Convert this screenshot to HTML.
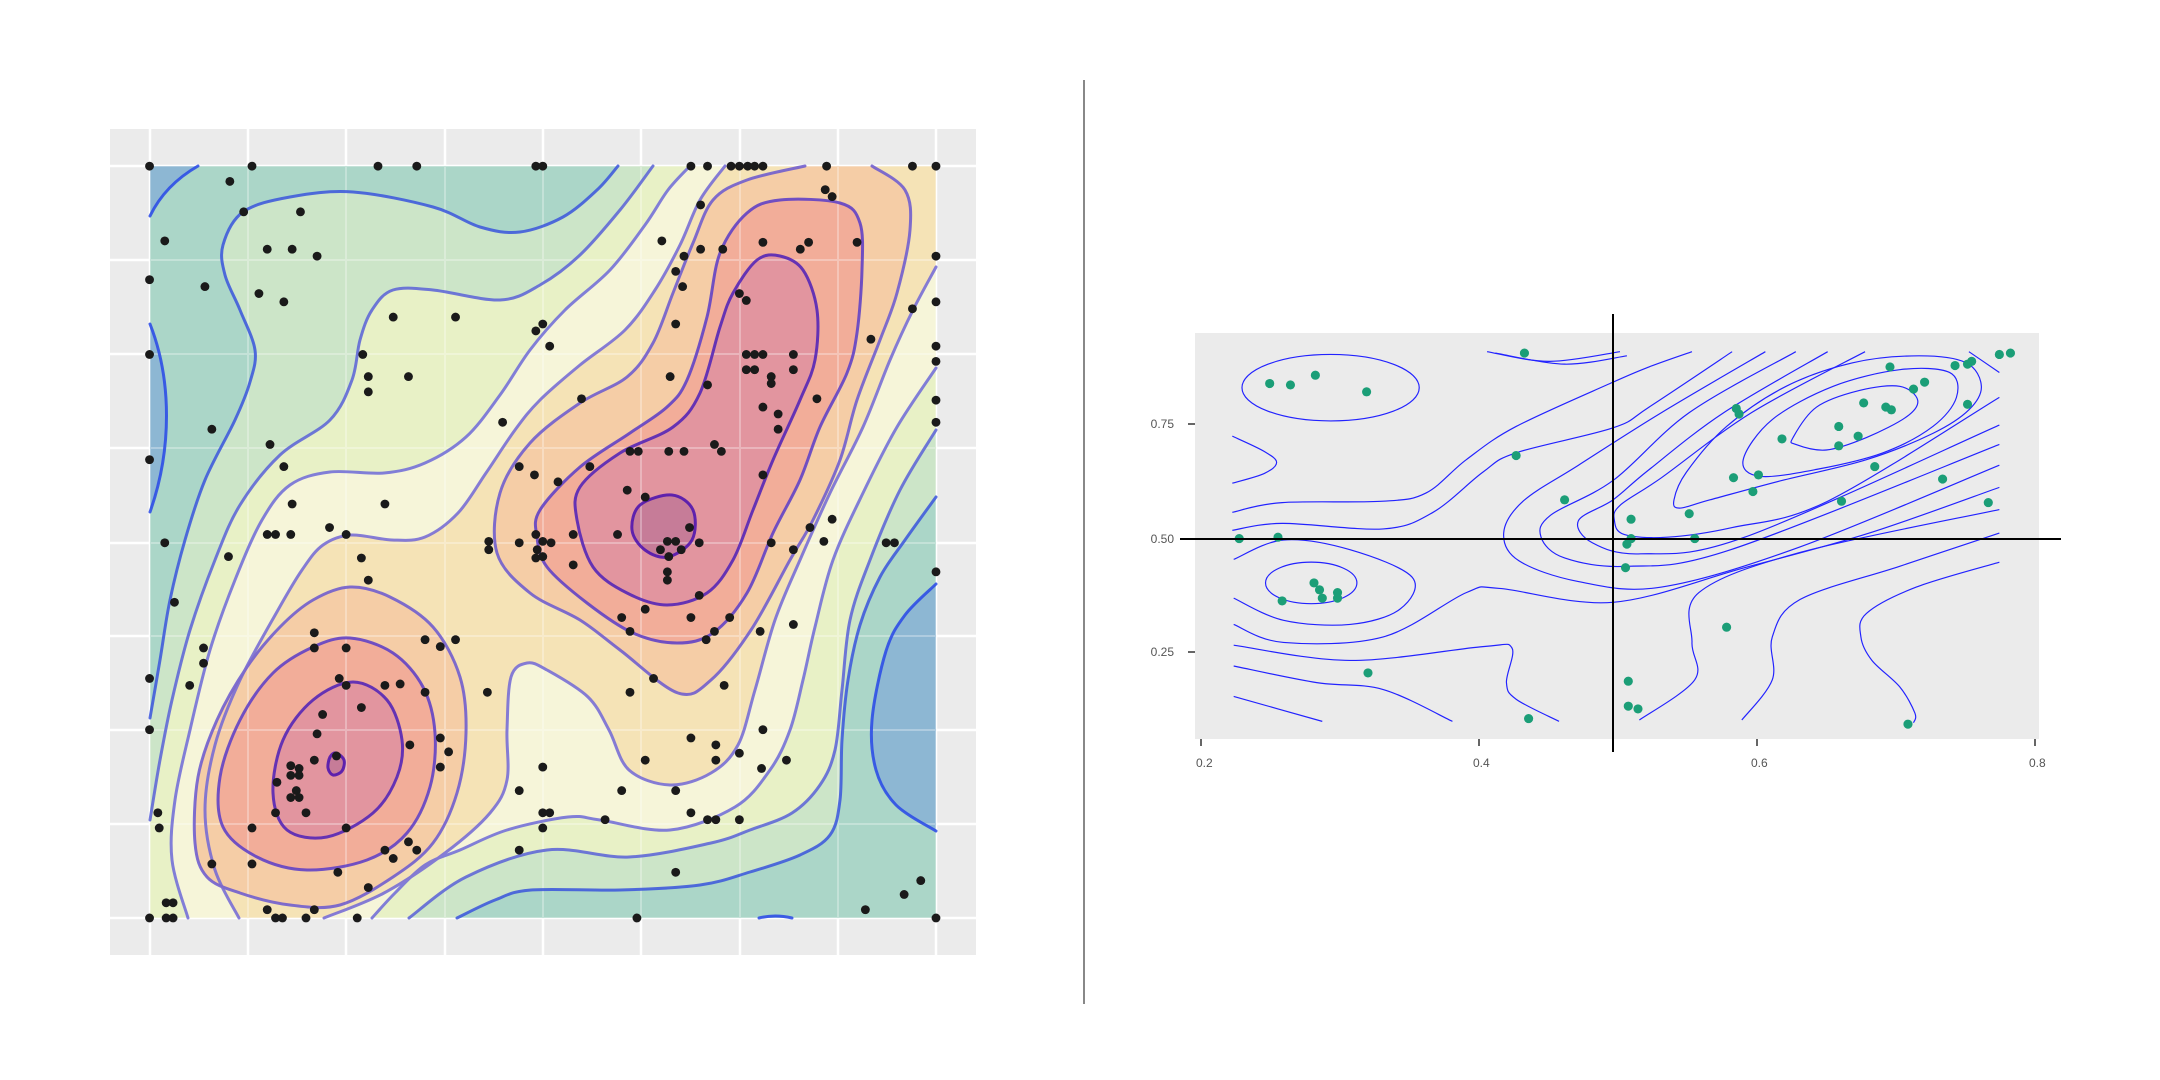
<!DOCTYPE html>
<html><head><meta charset="utf-8"><style>
html,body{margin:0;padding:0;background:#fff;}
svg{display:block;font-family:"Liberation Sans",sans-serif;}
</style></head><body>
<svg id="s" xmlns="http://www.w3.org/2000/svg" width="2160" height="1080" viewBox="0 0 2160 1080">
<rect width="2160" height="1080" fill="#fff"/>
<rect x="110" y="129" width="866" height="826" fill="#ebebeb"/>
<g id="grid0" stroke="#fff" stroke-width="2.5"></g>
<g id="fills"></g>
<g id="grid1" stroke="#fff" stroke-width="2" opacity="0.3"></g>
<g id="lines" fill="none" stroke-width="3" stroke-linecap="round" stroke-linejoin="round" opacity="0.85"></g>
<g id="ldots" transform="scale(1.3846)" fill="#1a1a1a"></g>
<line x1="1084" y1="80" x2="1084" y2="1004" stroke="#888" stroke-width="2"/>
<rect x="1195" y="333" width="844" height="406" fill="#ebebeb"/>
<g id="rlines" transform="scale(1.3846)" fill="none" stroke="#2222ff" stroke-width="0.85"></g>
<g id="rdots" transform="scale(1.3846)" fill="#1b9e77"></g>
<line x1="1180" y1="539" x2="2061" y2="539" stroke="#000" stroke-width="2"/>
<line x1="1613" y1="314" x2="1613" y2="752" stroke="#000" stroke-width="2"/>
<g stroke="#333" stroke-width="1.5">
<line x1="1188" y1="424" x2="1195" y2="424"/>
<line x1="1188" y1="652" x2="1195" y2="652"/>
<line x1="1201" y1="739" x2="1201" y2="746"/>
<line x1="1479" y1="739" x2="1479" y2="746"/>
<line x1="1757" y1="739" x2="1757" y2="746"/>
<line x1="2035" y1="739" x2="2035" y2="746"/>
</g>
<g fill="#555" font-size="12">
<text x="1174" y="428" text-anchor="end">0.75</text>
<text x="1174" y="543" text-anchor="end">0.50</text>
<text x="1174" y="656" text-anchor="end">0.25</text>
<text x="1196" y="767">0.2</text>
<text x="1473" y="767">0.4</text>
<text x="1751" y="767">0.6</text>
<text x="2029" y="767">0.8</text>
</g>
</svg>
<script>
const NS="http://www.w3.org/2000/svg";
function el(t,a,p){const e=document.createElementNS(NS,t);for(const k in a)e.setAttribute(k,a[k]);p.appendChild(e);return e;}
function cr(P,closed){let d='';const n=P.length;const m=closed?n:n-1;
 for(let i=0;i<m;i++){const g=j=>closed?P[(j+n)%n]:P[Math.max(0,Math.min(n-1,j))];
  const p0=g(i-1),p1=g(i),p2=g(i+1),p3=g(i+2);
  const c1=[p1[0]+(p2[0]-p0[0])/6,p1[1]+(p2[1]-p0[1])/6],c2=[p2[0]-(p3[0]-p1[0])/6,p2[1]-(p3[1]-p1[1])/6];
  d+=`C${c1[0].toFixed(1)},${c1[1].toFixed(1)} ${c2[0].toFixed(1)},${c2[1].toFixed(1)} ${p2[0]},${p2[1]}`;}
 return d;}
function open(P){return 'M'+P[0]+cr(P,false);}
function loop(P){return 'M'+P[0]+cr(P,true)+'Z';}
const gx=[150,248,346,445,543,641,740,838,936],gy=[166,260,354,448,543,636,730,824,918];
['grid0','grid1'].forEach(id=>{const g=document.getElementById(id);
 gx.forEach(x=>el('line',{x1:x,y1:129,x2:x,y2:955},g));gy.forEach(y=>el('line',{x1:110,y1:y,x2:976,y2:y},g));});
const F=document.getElementById('fills'),L=document.getElementById('lines');
const C=['#8db7d3','#abd6c8','#cce5c8','#e8f1c6','#f6f5d9','#f5e3b6','#f5cda6','#f2ad99','#e2959f','#c67c98'];
const S=['#2848e8','#3a55dd','#5a62d8','#6e6ad8','#7268d6','#6a58d0','#5a3cc8','#4e20b8','#4a10b0'];
el('rect',{x:150,y:166,width:786,height:752,fill:C[1]},F);
function region(items,fill,stroke){let d='';let lines=[];
 items.forEach((it,k)=>{if(it.c){d+=(k==0?'M':'L')+it.c[0]+cr(it.c,false);lines.push(it.c);}else it.l.forEach(p=>d+='L'+p);});
 d+='Z';el('path',{d:d,fill:fill},F);lines.forEach(c=>el('path',{d:open(c),stroke:stroke},L));}
function island(P,fill,stroke){el('path',{d:loop(P),fill:fill},F);el('path',{d:loop(P),stroke:stroke},L);}
el('path',{d:'M150,166L198,166Q165,185 150,216Z',fill:C[0]},F);el('path',{d:'M198,166Q165,185 150,216',stroke:S[0]},L);
el('path',{d:'M150,324C172,380 172,450 150,512Z',fill:C[0]},F);el('path',{d:'M150,324C172,380 172,450 150,512',stroke:S[0]},L);
const rb=[[936,584],[905,615],[886,651],[872,720],[876,770],[896,805],[936,831]];
el('path',{d:open(rb)+'Z',fill:C[0]},F);el('path',{d:open(rb),stroke:S[0]},L);
el('path',{d:'M759,918Q775,914 792,918Z',fill:C[0]},F);el('path',{d:'M759,918Q775,914 792,918',stroke:S[0]},L);
region([{c:[[150,718],[160,660],[170,600],[185,540],[205,480],[235,420],[250,382],[255,350],[240,310],[225,275],[223,245],[243,212],[290,197],[353,192],[433,207],[480,227],[520,232],[563,217],[597,190],[618,166]]},{l:[[936,166]]},
 {c:[[936,497],[905,540],[880,577],[860,625],[848,680],[842,740],[840,800],[830,835],[800,855],[750,872],[700,885],[620,890],[531,890],[495,900],[457,918]]},{l:[[150,918]]}],C[2],S[1]);
region([{c:[[150,820],[160,760],[172,700],[190,630],[215,560],[240,505],[280,455],[330,420],[352,380],[360,340],[372,310],[393,290],[433,290],[500,300],[540,285],[580,255],[620,210],[653,166]]},{l:[[936,166]]},
 {c:[[936,430],[900,490],[870,560],[850,620],[842,690],[835,750],[820,785],[792,813],[750,830],[711,843],[629,857],[547,850],[466,877],[409,918]]},{l:[[150,918]]}],C[3],S[2]);
region([{c:[[188,918],[172,860],[175,800],[190,730],[210,650],[235,580],[262,520],[290,485],[330,472],[384,473],[425,463],[466,437],[500,395],[530,350],[565,310],[610,270],[645,225],[668,190],[690,166]]},{l:[[936,166]]},
 {c:[[936,368],[897,427],[863,493],[833,560],[815,627],[803,680],[790,730],[770,770],[735,807],[670,830],[600,820],[568,817],[507,830],[460,850],[425,865],[395,893],[372,918]]}],C[4],S[3]);
region([{c:[[239,918],[215,870],[205,810],[215,745],[240,680],[278,610],[302,570],[323,545],[351,535],[392,540],[425,537],[458,513],[486,473],[515,430],[540,400],[580,365],[625,330],[655,290],[680,245],[700,200],[725,166]]},{l:[[936,166]]},
 {c:[[936,267],[913,310],[890,360],[863,427],[830,493],[800,560],[775,620],[755,690],[738,745],[711,773],[670,785],[629,770],[609,730],[588,697],[547,670],[527,663],[511,677],[507,730],[507,780],[490,813],[445,853],[384,893],[324,918]]}],C[5],S[4]);
region([{c:[[805,166],[747,180],[713,200],[693,243],[673,293],[653,343],[627,377],[580,403],[530,443],[500,493],[497,553],[530,593],[580,620],[620,650],[678,693],[711,680],[751,630],[790,560],[813,520],[840,460],[857,400],[880,340],[897,293],[910,230],[905,190],[872,166]]}],C[6],S[5]);
island([[350,587],[390,597],[433,627],[460,677],[466,733],[457,793],[433,843],[393,877],[340,905],[290,905],[240,893],[207,877],[195,843],[198,777],[217,720],[247,667],[280,627],[313,600]],C[6],S[5]);
island([[537,537],[540,510],[580,467],[630,433],[667,407],[687,380],[707,317],[720,253],[747,213],[780,200],[840,203],[860,223],[862,270],[857,333],[847,373],[820,427],[800,480],[773,533],[747,593],[713,633],[677,643],[633,633],[587,603],[547,567]],C[7],S[6]);
island([[350,638],[393,653],[423,687],[435,733],[430,787],[407,833],[367,860],[307,870],[257,857],[223,827],[220,777],[240,720],[273,673],[313,647]],C[7],S[6]);
island([[577,520],[580,487],[620,453],[673,427],[700,393],[720,327],[733,293],[757,260],[780,256],[803,270],[817,310],[815,360],[800,400],[773,460],[753,510],[733,560],[707,593],[667,605],[627,593],[593,567]],C[8],S[7]);
island([[353,682],[387,700],[402,740],[397,777],[373,813],[327,837],[287,830],[273,793],[283,740],[313,700]],C[8],S[7]);
island([[640,505],[672,495],[693,510],[692,540],[668,557],[645,550],[632,530]],C[9],S[8]);
island([[336,753],[344,760],[342,771],[333,775],[328,768],[330,757]],C[9],S[8]);
const D=[[108,120],[182,120],[273,120],[301,120],[387,120],[392,120],[499,120],[511,120],[528,120],[534,120],[540,120],[545,120],[551,120],[597,120],[659,120],[676,120],
[166,131],[176,153],[217,153],[506,148],[596,137],[601,142],[119,174],[193,180],[211,180],[229,185],[108,202],[148,207],[187,212],[108,256],[262,256],
[478,174],[494,185],[506,180],[522,180],[551,175],[584,175],[578,180],[619,175],[676,185],[488,196],[493,207],[534,212],[539,217],[659,223],[676,218],[205,218],[284,229],[329,229],[392,234],[387,239],[397,250],[488,234],[676,250],[676,261],[266,272],[266,283],[295,272],[539,256],[545,256],[551,256],[539,267],[545,267],[573,256],[573,267],[557,272],[557,277],[629,245],[484,272],[420,288],[511,278],[590,288],[551,294],[676,289],[676,305],[153,310],[195,321],[562,299],[562,310],[108,332],[205,337],[375,337],[363,305],[455,326],[461,326],[483,326],[494,326],[516,321],[521,326],[426,337],[386,343],[403,348],[453,354],[466,359],[551,343],[211,364],[278,364],[238,381],[193,386],[199,386],[210,386],[250,386],[353,391],[353,397],[375,392],[387,386],[392,391],[398,392],[414,386],[446,386],[482,391],[488,391],[498,381],[505,392],[557,392],[595,391],[640,392],[646,392],[119,392],[165,402],[261,403],[388,397],[387,403],[477,397],[483,402],[492,397],[482,413],[482,419],[573,397],[585,381],[601,375],[266,419],[414,408],[392,402],[676,413],[126,435],[505,430],[466,440],[449,446],[455,456],[499,446],[516,456],[510,462],[527,446],[549,456],[573,451],[227,457],[227,468],[250,468],[307,462],[318,467],[329,462],[147,468],[147,479],[108,490],[137,495],[245,490],[250,495],[278,495],[289,494],[307,500],[261,511],[233,516],[352,500],[455,500],[472,490],[523,495],[108,527],[229,530],[296,538],[318,533],[324,543],[227,549],[243,546],[210,553],[216,555],[210,560],[216,560],[318,554],[392,554],[466,549],[499,533],[517,538],[517,549],[534,544],[551,527],[568,549],[200,565],[214,571],[210,576],[216,576],[199,587],[221,587],[114,587],[375,571],[449,571],[488,571],[392,587],[397,587],[392,598],[250,598],[437,592],[499,587],[511,592],[517,592],[534,592],[550,555],[115,598],[182,598],[278,614],[295,608],[301,614],[375,614],[284,620],[153,624],[182,624],[488,630],[244,630],[266,641],[193,657],[120,652],[125,652],[108,663],[120,663],[125,663],[199,663],[204,663],[227,657],[221,663],[460,663],[625,657],[653,646],[665,636],[676,663],[258,663]];
const LD=document.getElementById('ldots');D.forEach(p=>el('circle',{cx:p[0],cy:p[1],r:3.2},LD));
const RL=document.getElementById('rlines');
el('ellipse',{cx:961,cy:280,rx:64,ry:24},RL);
el('ellipse',{cx:947,cy:421,rx:33,ry:15},RL);
const ro=[
[[890,315],[913,326],[922,334],[913,342],[890,349]],
[[890,370],[926,363],[999,362],[1030,356],[1059,332],[1095,308],[1165,276],[1191,265],[1222,254]],
[[890,383],[926,378],[999,382],[1035,370],[1071,341],[1095,327],[1165,309],[1191,294],[1251,254]],
[[1074,254],[1119,261],[1170,254]],
[[1275,254],[1200,298],[1140,336],[1100,362],[1086,385],[1097,405],[1140,420],[1200,424],[1300,395],[1444,336]],
[[1297,254],[1220,298],[1165,347],[1120,372],[1113,388],[1130,403],[1175,409],[1250,397],[1444,321]],
[[1320,254],[1245,298],[1190,340],[1165,361],[1140,376],[1150,392],[1185,400],[1260,388],[1444,307]],
[[1347,254],[1265,298],[1200,345],[1170,365],[1166,376],[1173,386],[1204,388],[1251,381],[1320,362],[1444,287]],
[[1422,254],[1444,269]],
[[891,404],[927,390],[975,397],[1020,417],[1011,440],[975,451],[927,448],[891,432]],
[[891,451],[927,464],[999,460],[1059,428],[1083,425],[1165,435],[1260,410],[1350,385],[1444,352]],
[[891,466],[975,477],[1071,467],[1092,468],[1088,493],[1095,505],[1126,521]],
[[891,481],[951,493],[999,498],[1049,521]],
[[891,503],[955,521]],
[[1444,406],[1384,424],[1348,443],[1344,460],[1352,477],[1372,496],[1383,515],[1382,522]],
[[1444,385],[1372,409],[1300,433],[1280,460],[1280,491],[1258,520]],
[[1444,368],[1300,399],[1227,428],[1222,464],[1224,491],[1184,520]],
[[1080,255],[1130,263],[1175,257]]
];
ro.forEach(P=>el('path',{d:open(P)},RL));
const rl=[
[[1209,361],[1218,341],[1247,308],[1290,279],[1338,262],[1386,257],[1420,262],[1431,279],[1422,296],[1396,313],[1348,332],[1287,347],[1235,361],[1213,367]],
[[1259,332],[1280,303],[1324,279],[1372,267],[1408,269],[1413,287],[1396,308],[1360,327],[1312,339],[1271,344]],
[[1295,316],[1312,294],[1343,282],[1372,279],[1385,289],[1377,301],[1348,316],[1319,325],[1297,321]]
];
rl.forEach(P=>el('path',{d:loop(P)},RL));
const RD=[[895,389],[917,277],[932,278],[950,271],[987,283],[923,388],[926,434],[949,421],[953,426],[955,432],[966,428],[966,432],[988,486],[1101,255],[1095,329],[1130,361],[1104,519],[1176,492],[1176,510],[1183,512],[1178,375],[1178,389],[1175,393],[1174,410],[1220,371],[1224,389],[1247,453],[1252,345],[1254,295],[1256,299],[1266,355],[1270,343],[1287,317],[1328,308],[1328,322],[1342,315],[1346,291],[1354,337],[1362,294],[1365,265],[1382,281],[1390,276],[1403,346],[1412,264],[1421,263],[1424,261],[1421,292],[1436,363],[1444,256],[1452,255],[1378,523],[1330,362],[1366,296]];
const RDg=document.getElementById('rdots');RD.forEach(p=>el('circle',{cx:p[0],cy:p[1],r:3.3},RDg));
</script>
</body></html>
